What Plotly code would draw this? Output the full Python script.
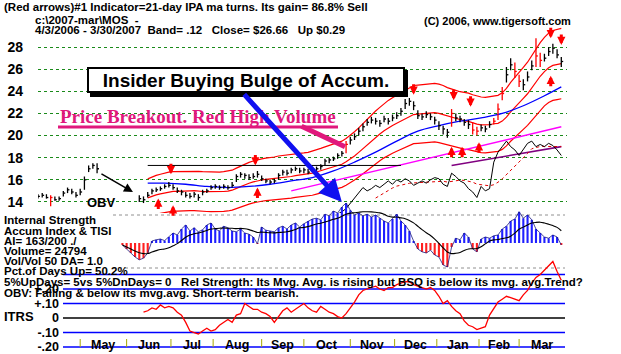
import pandas as pd
import plotly.graph_objects as go

W, H = 621, 354
def PX(x): return x / W
def PY(y): return 1 - y / H

# ---------------- data ----------------
# x = trading-day number counted from 4/3/2006 (one reading every 2nd day)
day = list(range(0, 250, 2))
close = [14.5, 14.6, 14.4, 14.4, 14.2, 14.3, 14.8, 15.1, 14.9, 14.6, 14.9, 16.0, 17.0, 17.3, 17.0,
         None, None, None, None, None, None, None, None, None,
         14.3, 14.2, 14.6, 15.0, 15.1, 15.2, 15.4, 15.5, 15.3, 15.0,
         14.9, 14.6, 14.5, 14.7, 14.4, 14.9, 15.0, 15.3, 15.4, 15.3,
         15.4, 15.3, 15.5, 16.3, 16.5, 16.4, 16.2, 16.3, 16.5, 16.1,
         15.9, 15.8, 15.9, 16.4, 16.7, 16.6, 16.9, 17.0, 16.8, 16.9,
         16.7, 16.9, 17.0, 17.2, 17.7, 17.8, 17.9, 18.2, 18.4, 19.2,
         19.6, 19.9, 20.4, 20.8, 21.2, 21.4, 21.3, 21.1, 21.5, 21.3,
         21.6, 21.8, 22.2, 22.9, 23.1, 22.7, 21.8, 21.7, 21.9, 21.7,
         21.4, 20.9, 20.6, 20.3, 22.0, 21.6, 21.5, 21.2, 21.0, 20.5,
         20.4, 20.7, 20.6, 21.0, 21.3, 22.4, 23.8, 25.5, 26.4, 25.8,
         24.9, 24.6, 25.3, 26.3, 27.2, 26.8, 27.0, 27.6, 27.9, 27.3,
         26.7]
high = [14.7, 14.8, 14.7, 14.6, 14.5, 14.5, 15.0, 15.3, 15.2, 14.9, 15.2, 16.3, 17.3, 17.5, 17.5,
        None, None, None, None, None, None, None, None, None,
        14.6, 14.5, 14.9, 15.2, 15.3, 15.4, 15.6, 15.8, 15.6, 15.3,
        15.1, 14.9, 14.8, 14.9, 14.7, 15.1, 15.2, 15.5, 15.6, 15.5,
        15.6, 15.5, 15.8, 16.5, 16.7, 16.6, 16.5, 16.6, 16.8, 16.4,
        16.1, 16.0, 16.1, 16.6, 16.9, 16.9, 17.1, 17.2, 17.1, 17.1,
        17.0, 17.1, 17.2, 17.4, 17.9, 18.0, 18.1, 18.4, 18.6, 19.5,
        19.9, 20.2, 20.7, 21.1, 21.5, 21.7, 21.6, 21.4, 21.8, 21.6,
        21.9, 22.1, 22.5, 23.3, 23.4, 23.1, 22.3, 22.0, 22.2, 22.0,
        21.7, 21.3, 20.9, 20.6, 22.4, 22.0, 21.8, 21.5, 21.4, 21.2,
        20.8, 21.0, 20.9, 21.3, 21.6, 22.9, 24.4, 26.2, 27.0, 26.6,
        25.5, 25.1, 25.8, 26.8, 28.8, 27.5, 27.4, 28.0, 28.3, 27.8,
        27.1]
low = [14.3, 14.4, 14.3, 13.6, 14.1, 14.1, 14.5, 14.8, 14.7, 14.4, 14.6, 15.1, 16.7, 17.0, 16.6,
       None, None, None, None, None, None, None, None, None,
       14.0, 13.9, 14.4, 14.7, 14.9, 15.0, 15.2, 15.3, 15.1, 14.8,
       14.6, 14.4, 14.3, 14.4, 14.1, 14.6, 14.8, 15.1, 15.2, 15.1,
       15.2, 15.1, 15.3, 15.8, 16.2, 16.1, 16.0, 16.1, 16.2, 15.9,
       15.7, 15.6, 15.7, 16.0, 16.4, 16.4, 16.6, 16.8, 16.6, 16.6,
       16.5, 16.7, 16.8, 16.9, 17.3, 17.5, 17.7, 17.9, 18.1, 18.4,
       19.2, 19.6, 20.0, 20.4, 20.9, 21.1, 21.0, 20.8, 21.2, 21.0,
       21.3, 21.5, 21.8, 22.4, 22.7, 22.3, 21.5, 21.4, 21.6, 21.4,
       21.0, 20.5, 20.1, 19.8, 20.8, 21.3, 21.2, 20.9, 20.6, 20.1,
       20.0, 20.4, 20.3, 20.7, 21.0, 21.4, 23.2, 24.8, 25.9, 25.2,
       24.4, 24.1, 24.9, 25.9, 26.2, 26.2, 26.7, 27.2, 27.4, 27.0,
       26.2]
red_days = [6, 146, 196, 206, 208, 216, 218, 220, 226, 228, 236, 238]
band = 0.12
band_from_day = 52

ma50_day = [52, 60, 70, 80, 90, 100, 110, 120, 130, 140, 150, 160, 170, 180, 190, 200, 210, 220, 230, 240, 248]
ma50_val = [15.7, 15.7, 15.6, 15.4, 15.3, 15.4, 15.6, 15.9, 16.2, 16.8, 17.6, 18.5, 19.5, 20.4, 20.9, 21.3, 21.6, 22.0, 22.7, 23.6, 24.4]

magenta_day = [120, 248]
magenta_val = [15.0, 20.8]
purple_day = [196, 248]
purple_val = [17.3, 19.0]
resist_day = [52, 172]
resist_val = [17.3, 17.3]

obv_day = list(range(142, 250, 2))
obv = [12.9, 13.1, 13.4, 13.9, 14.3, 14.9, 15.3, 15.0, 15.2, 15.5,
       15.3, 15.6, 15.9, 15.6, 16.0, 15.8, 16.1, 15.9, 15.5, 15.7,
       15.9, 15.7, 16.0, 16.2, 16.1, 15.6, 15.4, 16.6, 16.3, 15.9,
       15.7, 15.2, 14.9, 14.4, 15.4, 15.0, 15.2, 17.6, 18.5, 19.0,
       19.5, 19.0, 18.7, 18.2, 18.8, 19.3, 19.5, 19.0, 19.2, 19.0,
       19.3, 19.1, 18.7, 18.2]

sell_day = [63, 103, 178, 197, 205, 243, 248]
sell_px = [16.5, 17.3, 23.7, 23.2, 22.6, 28.8, 28.2]
buy_day = [57, 64, 104, 196, 201, 209, 243]
buy_px = [14.3, 13.7, 15.3, 19.0, 19.0, 19.4, 25.4]

price_ticks = [14, 16, 18, 20, 22, 24, 26, 28]

ai_day = list(range(40, 250, 2))
ai = [-0.05, -0.15, -0.25, -0.35, -0.42, -0.38, -0.25, 0.05, 0.08, 0.10,
      0.06, 0.15, 0.25, 0.20, 0.35, 0.45, 0.30, 0.38, 0.28, 0.33,
      0.45, 0.50, 0.35, 0.30, 0.42, 0.38, 0.30, 0.28, 0.35, 0.25,
      0.22, 0.15, -0.02, 0.40, 0.32, 0.30, 0.28, 0.38, 0.42, 0.35,
      0.45, 0.50, 0.40, 0.48, 0.55, 0.60, 0.62, 0.58, 0.72, 0.68,
      0.80, 0.75, 0.90, 1.00, 0.82, 0.70, 0.75, 0.68, 0.72, 0.65,
      0.70, 0.62, 0.55, 0.50, 0.60, 0.72, 0.55, 0.45, 0.30, 0.05,
      -0.15, -0.22, -0.25, -0.18, -0.30, -0.35, -0.55, -0.60, -0.10, 0.12,
      0.08, 0.25, 0.15, -0.15, -0.22, 0.10, 0.15, 0.12, 0.18, 0.20,
      0.35, 0.42, 0.55, 0.60, 0.78, 0.62, 0.70, 0.58, 0.35, 0.25,
      0.15, 0.12, 0.20, 0.15, -0.05]

itrs_day = list(range(50, 250, 2))
itrs = [0.04, 0.05, 0.07, 0.06, 0.09, 0.07, 0.08, 0.07, 0.04, 0.02,
        -0.03, -0.09, -0.10, -0.11, -0.09, -0.07, -0.09, -0.08, -0.05, -0.03,
        -0.01, -0.03, 0.02, 0.03, 0.10, 0.08, 0.06, 0.06, 0.04, 0.03,
        0.01, -0.03, 0.01, 0.05, 0.07, 0.04, 0.06, 0.08, 0.10, 0.07,
        0.05, 0.04, 0.08, 0.06, 0.04, 0.03, 0.01, 0.00, 0.03, 0.07,
        0.11, 0.16, 0.19, 0.20, 0.21, 0.22, 0.20, 0.19, 0.21, 0.21,
        0.23, 0.24, 0.25, 0.25, 0.23, 0.22, 0.21, 0.20, 0.21, 0.19,
        0.15, 0.10, 0.12, 0.08, 0.05, 0.03, -0.02, -0.05, -0.06, -0.08,
        -0.07, -0.06, 0.02, 0.07, 0.11, 0.13, 0.15, 0.14, 0.13, 0.12,
        0.16, 0.19, 0.24, 0.28, 0.30, 0.33, 0.36, 0.39, 0.32, 0.26]
itrs_levels = [0.3, 0.2, 0.1, -0.1, -0.2]
itrs_ticks = [0.2, 0.1, 0, -0.1, -0.2]
itrs_ticktext = ['+.20', '+.10', '0', '-.10', '-.20']

month_names = ['May', 'Jun', 'Jul', 'Aug', 'Sep', 'Oct', 'Nov', 'Dec', 'Jan', 'Feb', 'Mar']
month_start = [20, 42, 63, 83, 106, 126, 148, 169, 189, 209, 228, 250]

title_lines = [
    ("(Red arrows)#1 Indicator=21-day IPA ma turns. Its gain= 86.8% Sell", 2, 7, 11.5),
    ("c:\\2007-mar\\MOS  -", 33, 20.5, 11.5),
    ("4/3/2006 - 3/30/2007  Band= .12   Close= $26.66   Up $0.29", 33, 29.5, 11.5),
    ("(C) 2006, www.tigersoft.com", 422, 21, 11),
]
panel_lines = [
    ("Internal Strength", 219.5),
    ("Accum Index & TISI", 230.5),
    ("AI= 163/200 ./", 240.5),
    ("Volume= 24794", 251),
    ("Vol/Vol 50 DA= 1.0", 261),
    ("Pct.of Days Up= 50.2%", 271),
    ("5%UpDays= 5vs 5%DnDays= 0   Rel Strength: Its Mvg. Avg. is rising but BSQ is below its mvg. avg.Trend?", 282),
    ("OBV: Falling & below its mvg.avg. Short-term bearish.", 292.5),
]

# ---------------- figure ----------------
FONT = 'Liberation Sans, Arial, sans-serif'
fig = go.Figure()

s_close = pd.Series(close, index=day, dtype='float')
mid = s_close.rolling(11, min_periods=3).mean()
mid = mid[mid.index >= band_from_day]
upper = mid * (1 + band)
lower = mid * (1 - band)
for ser in (upper, mid, lower):
    fig.add_trace(go.Scatter(x=list(ser.index), y=list(ser.values), mode='lines',
                             line=dict(color='#ff0000', width=1.2), yaxis='y'))

fig.add_trace(go.Scatter(x=ma50_day, y=ma50_val, mode='lines', line=dict(color='#0000ff', width=1.3, shape='spline')))
fig.add_trace(go.Scatter(x=magenta_day, y=magenta_val, mode='lines', line=dict(color='#ff00ff', width=1.5)))
fig.add_trace(go.Scatter(x=purple_day, y=purple_val, mode='lines', line=dict(color='#800080', width=1.6)))
fig.add_trace(go.Scatter(x=resist_day, y=resist_val, mode='lines', line=dict(color='black', width=1)))

obv_ma = pd.Series(obv, index=obv_day).rolling(10).mean()
fig.add_trace(go.Scatter(x=obv_day, y=list(obv_ma.values), mode='lines',
                         line=dict(color='#e00000', width=1, dash='dot')))
fig.add_trace(go.Scatter(x=obv_day, y=obv, mode='lines', line=dict(color='black', width=1)))

# HLC bars
for want_red, col in ((False, 'black'), (True, '#ff0000')):
    xs, ys, cx, cy = [], [], [], []
    for d, c, h, l in zip(day, close, high, low):
        if c is None or ((d in red_days) != want_red):
            continue
        xs += [d, d, None]; ys += [l, h, None]
        cx += [d, d + 0.9, None]; cy += [c, c, None]
    fig.add_trace(go.Scatter(x=xs, y=ys, mode='lines', line=dict(color=col, width=1.3)))
    fig.add_trace(go.Scatter(x=cx, y=cy, mode='lines', line=dict(color=col, width=1.3)))

# Accumulation index panel
fig.add_trace(go.Bar(x=ai_day, y=ai, width=1.0, yaxis='y2',
                     marker=dict(color=['#1f1fff' if v >= 0 else '#ff2020' for v in ai], line=dict(width=0))))
fig.add_trace(go.Scatter(x=ai_day, y=ai, mode='lines', yaxis='y2', line=dict(color='#1a1a80', width=0.8)))
ai_ma = pd.Series(ai, index=ai_day).rolling(10, min_periods=1).mean()
fig.add_trace(go.Scatter(x=ai_day, y=list(ai_ma.values), mode='lines', yaxis='y2',
                         line=dict(color='black', width=1.1, shape='spline')))

# ITRS panel
fig.add_trace(go.Scatter(x=itrs_day, y=itrs, mode='lines', yaxis='y3', line=dict(color='#ff0000', width=1.3)))

shapes = []
for lv in itrs_levels + [0]:
    shapes.append(dict(type='line', xref='paper', yref='y3', x0=PX(63), x1=PX(565), y0=lv, y1=lv,
                       line=dict(color='black' if lv == 0 else '#0000ff', width=1.5), layer='below'))
for lv in (0.7, -0.625):
    shapes.append(dict(type='line', xref='paper', yref='y2', x0=PX(113), x1=PX(565), y0=lv, y1=lv,
                       line=dict(color='#909090', width=1, dash='dot'), layer='below'))
for ms in month_start[:-1]:
    shapes.append(dict(type='line', xref='x', yref='paper', x0=ms, x1=ms, y0=PY(347), y1=PY(339),
                       line=dict(color='#a8a800', width=1)))
shapes.append(dict(type='rect', xref='paper', yref='paper', x0=PX(90), x1=PX(408), y0=PY(97), y1=PY(70),
                   fillcolor='black', line=dict(width=0), layer='above'))
shapes.append(dict(type='line', xref='paper', yref='paper', x0=PX(58), x1=PX(338), y0=PY(127), y1=PY(127),
                   line=dict(color='#e0187c', width=3), layer='above'))

ann = []
for txt, x, y, fs in title_lines:
    ann.append(dict(text=txt, x=PX(x), y=PY(y), xref='paper', yref='paper', xanchor='left', yanchor='middle',
                    showarrow=False, font=dict(family=FONT, size=fs, color='black', weight='bold')))
for txt, y in panel_lines:
    ann.append(dict(text=txt, x=PX(2), y=PY(y), xref='paper', yref='paper', xanchor='left', yanchor='middle',
                    showarrow=False, font=dict(family=FONT, size=11.5, color='black', weight='bold')))
ann.append(dict(text='ITRS', x=PX(2), y=PY(316), xref='paper', yref='paper', xanchor='left', yanchor='middle',
                showarrow=False, font=dict(family=FONT, size=13, color='black', weight='bold')))
ann.append(dict(text='OBV', x=PX(85), y=PY(202), xref='paper', yref='paper', xanchor='left', yanchor='middle',
                showarrow=False, font=dict(family=FONT, size=13, color='black', weight='bold')))
for k, name in enumerate(month_names):
    mx = (month_start[k] + month_start[k + 1]) / 2
    ann.append(dict(text=name, x=mx, y=PY(345), xref='x', yref='paper', xanchor='center', yanchor='middle',
                    showarrow=False, font=dict(family=FONT, size=12.5, color='black', weight='bold')))
ann.append(dict(text='Insider Buying Bulge of Accum.', x=PX(246), y=PY(80), xref='paper', yref='paper',
                xanchor='center', yanchor='middle', showarrow=False, width=314, height=22, borderpad=0,
                bgcolor='white', bordercolor='black', borderwidth=2,
                font=dict(family=FONT, size=19, color='black', weight='bold')))
ann.append(dict(text='Price Breakout. Red High Volume', x=PX(198), y=PY(116.5), xref='paper', yref='paper',
                xanchor='center', yanchor='middle', showarrow=False,
                font=dict(family='Liberation Serif, Times New Roman, serif', size=19, color='#e0187c', weight='bold')))
ann.append(dict(text='', x=145.5, y=19.0, xref='x', yref='y', showarrow=True, ax=-45, ay=-21,
                arrowhead=0, arrowwidth=5, arrowcolor='#e0187c'))
ann.append(dict(text='', x=144, y=14.0, xref='x', yref='y', showarrow=True, ax=-99, ay=-109,
                arrowhead=2, arrowsize=0.9, arrowwidth=5, arrowcolor='#1010f0'))
ann.append(dict(text='', x=45, y=14.9, xref='x', yref='y', showarrow=True, ax=-33, ay=-19,
                arrowhead=2, arrowsize=1.2, arrowwidth=1.5, arrowcolor='black'))
for d, p in zip(sell_day, sell_px):
    ann.append(dict(text='', x=d, y=p, xref='x', yref='y', showarrow=True, ax=0, ay=-12,
                    arrowhead=2, arrowsize=0.55, arrowwidth=3, arrowcolor='#ff0000'))
for d, p in zip(buy_day, buy_px):
    ann.append(dict(text='', x=d, y=p, xref='x', yref='y', showarrow=True, ax=0, ay=12,
                    arrowhead=2, arrowsize=0.55, arrowwidth=3, arrowcolor='#ff0000'))

fig.update_layout(
    width=W, height=H, margin=dict(l=0, r=0, t=0, b=0),
    paper_bgcolor='white', plot_bgcolor='rgba(0,0,0,0)',
    showlegend=False, hovermode=False, barmode='overlay',
    xaxis=dict(domain=[PX(38), PX(567)], range=[0, 250.7], showgrid=False, zeroline=False,
               showticklabels=False, ticks='', anchor='y3'),
    yaxis=dict(domain=[PY(213), PY(25)], range=[13.0, 30.0], tickvals=price_ticks,
               showgrid=True, gridcolor='#1a8a1a', griddash='dot', gridwidth=1, zeroline=False,
               ticks='', ticklabelstandoff=14, anchor='x',
               tickfont=dict(family=FONT, size=14, color='black', weight='bold')),
    yaxis2=dict(domain=[PY(272), PY(200)], range=[-0.725, 1.075], showgrid=False, zeroline=False,
                showticklabels=False, ticks='', anchor='x'),
    yaxis3=dict(domain=[0, PY(260)], range=[-0.248, 0.4], showgrid=False, zeroline=False,
                tickvals=itrs_ticks, ticktext=itrs_ticktext, ticks='', anchor='free', position=PX(63),
                ticklabelstandoff=4, ticklabeloverflow='allow',
                tickfont=dict(family=FONT, size=12.5, color='black', weight='bold')),
    shapes=shapes, annotations=ann,
)
fig.write_html("out.html", config={'displayModeBar': False})
